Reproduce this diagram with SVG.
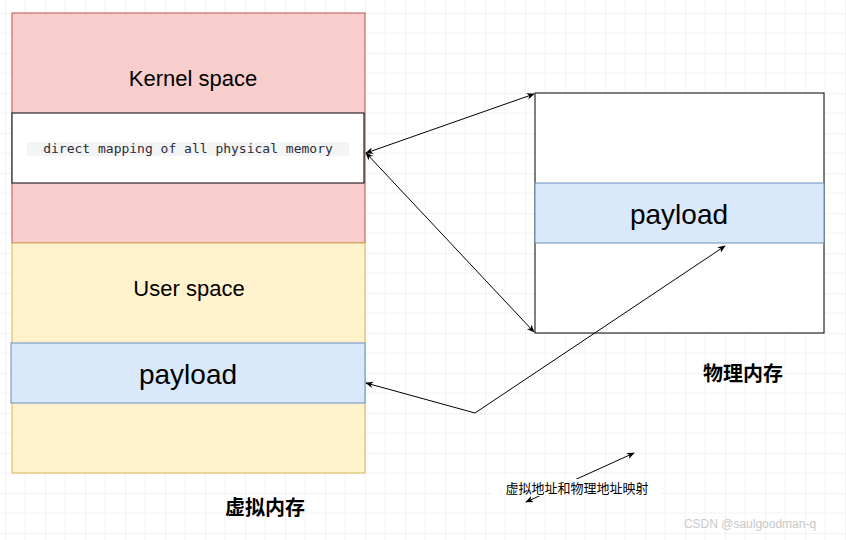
<svg xmlns="http://www.w3.org/2000/svg" width="846" height="540" viewBox="0 0 846 540">
<defs>
<pattern id="grid" width="40" height="40" patternUnits="userSpaceOnUse" x="5" y="13">
<path d="M0 0H40M0 0V40" fill="none" stroke="#e6e6e6" stroke-width="1"/>
<path d="M0 20H40M20 0V40" fill="none" stroke="#f3f3f3" stroke-width="1"/>
</pattern>
<marker id="ah" viewBox="0 0 10 10" refX="9" refY="5" markerWidth="8" markerHeight="8" orient="auto-start-reverse"><path d="M0 1L10 5L0 9L3 5Z" fill="#000"/></marker>
<style>
.t{font-family:"Liberation Sans",Arial,sans-serif;fill:#000;text-anchor:middle}
.c{font-family:"Noto Sans CJK SC",sans-serif;fill:#000;text-anchor:middle;font-weight:bold;font-size:20px}
.ln{fill:none;stroke:#000;stroke-width:1}
</style>
</defs>
<rect width="846" height="540" fill="#fff"/>
<rect width="846" height="540" fill="url(#grid)"/>
<g id="kernel"><rect x="12" y="13" width="353" height="230" fill="#f8cecc" stroke="#b85450"/><text class="t" x="193" y="86" font-size="22">Kernel space</text></g>
<g id="direct"><rect x="12" y="113" width="352" height="70" fill="#fff" stroke="#000"/><rect x="27" y="142" width="322" height="14" fill="#f3f4f4"/><text x="188" y="153" font-family="DejaVu Sans Mono,monospace" font-size="13" text-anchor="middle" fill="#2b2b3a">direct mapping of all physical memory</text></g>
<g id="user"><rect x="12" y="243" width="353" height="230" fill="#fff2cc" stroke="#d6b656"/><text class="t" x="189" y="296" font-size="22">User space</text></g>
<g id="vpayload"><rect x="11" y="343" width="354" height="60" fill="#dae8fc" stroke="#6c8ebf"/><text class="t" x="188" y="384" font-size="28">payload</text></g>
<g id="phys"><rect x="535" y="93" width="289" height="240" fill="#fff" stroke="#000"/></g>
<g id="ppayload"><rect x="535" y="183" width="289" height="60" fill="#dae8fc" stroke="#6c8ebf"/><text class="t" x="679" y="224" font-size="28">payload</text></g>
<g id="lbl-v"><text class="c" x="265" y="515">虚拟内存</text></g>
<g id="lbl-p"><text class="c" x="743" y="381">物理内存</text></g>
<g id="connectors">
<line class="ln" x1="366" y1="153" x2="534" y2="94" marker-start="url(#ah)" marker-end="url(#ah)"/>
<line class="ln" x1="366" y1="153" x2="534" y2="332" marker-start="url(#ah)" marker-end="url(#ah)"/>
<polyline class="ln" points="366,383 475,413 725,246" marker-start="url(#ah)" marker-end="url(#ah)"/>
<line class="ln" x1="526" y1="502" x2="634" y2="453" marker-start="url(#ah)" marker-end="url(#ah)"/>
</g>
<g id="legend"><rect x="493" y="479" width="168" height="17" fill="#fff"/><text x="577" y="493" font-family="Noto Sans CJK SC,sans-serif" font-size="13" text-anchor="middle" fill="#000">虚拟地址和物理地址映射</text></g>
<text x="750" y="528" font-family="Liberation Sans,sans-serif" font-size="12" text-anchor="middle" fill="#c8c8c8">CSDN @saulgoodman-q</text>
</svg>
